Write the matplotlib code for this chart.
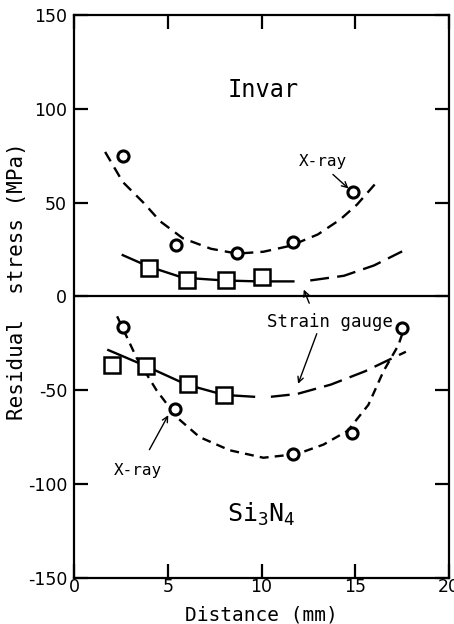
import numpy as np
import matplotlib.pyplot as plt

plt.rcParams['mathtext.fontset'] = 'custom'
plt.rcParams['mathtext.rm'] = 'DejaVu Sans Mono'

# Invar side (upper half)
invar_xray_x = [2.6, 5.45, 8.7, 11.7, 14.9]
invar_xray_y = [75, 27.6, 23, 29, 55.6]
invar_xray_fit_x = [1.66, 2.6, 3.7, 4.6, 5.8, 7.3, 8.7, 10.1, 11.55, 13.0, 14.2, 15.1, 16.2]
invar_xray_fit_y = [77, 61, 50, 40, 31, 25.4, 22.8, 23.8, 27, 33, 41, 49, 61.5]

invar_gauge_x = [4.0, 6.0, 8.1, 10.05]
invar_gauge_y = [15.4, 9, 9, 10.6]
invar_gauge_fit_x = [2.6, 3.96, 5.8, 8.0, 9.8, 11.7]
invar_gauge_fit_y = [22, 16, 10, 8.5, 8, 8]
invar_gauge_ext_x = [12.6, 14.4, 16.0, 17.5]
invar_gauge_ext_y = [8.5, 11, 16.5, 24]

# Si3N4 side (lower half)
si_xray_x = [2.6, 5.4, 11.7, 14.8, 17.5]
si_xray_y = [-16.4, -60, -84, -72.6, -17]
si_xray_fit_x = [2.3, 3.35, 4.4, 5.5, 6.7, 8.3, 10.1, 11.9, 13.3, 14.6, 15.7, 16.5, 17.3, 17.7]
si_xray_fit_y = [-10.6, -33, -50, -64.6, -75, -82, -86, -84, -79, -71.6, -57.8, -40, -26, -14.3]

si_gauge_x = [2.0, 3.85, 6.1, 8.0]
si_gauge_y = [-36.5, -37, -46.6, -52.7]
si_gauge_fit_x = [1.83, 3.8, 6.0, 8.0, 9.6]
si_gauge_fit_y = [-28.6, -37, -47, -52.5, -53.5]
si_gauge_ext_x = [10.5, 11.9, 13.7, 15.5, 17.7]
si_gauge_ext_y = [-53.5, -52, -47, -40, -29.5]

x_ticks = [0, 5, 10, 15, 20]
y_ticks = [-150, -100, -50, 0, 50, 100, 150]

mono = 'DejaVu Sans Mono'

fig = plt.figure(figsize=(4.54, 6.24), dpi=100)
ax = fig.add_axes([0.163, 0.074, 0.826, 0.902])

lw = 1.7
ax.plot(invar_xray_fit_x, invar_xray_fit_y, color='black', lw=lw, dashes=(4.6, 3))
ax.plot(invar_gauge_fit_x, invar_gauge_fit_y, color='black', lw=lw)
ax.plot(invar_gauge_ext_x, invar_gauge_ext_y, color='black', lw=lw, dashes=(8, 3.5))
ax.plot(si_xray_fit_x, si_xray_fit_y, color='black', lw=lw, dashes=(3.8, 2.6))
ax.plot(si_gauge_fit_x, si_gauge_fit_y, color='black', lw=lw)
ax.plot(si_gauge_ext_x, si_gauge_ext_y, color='black', lw=lw, dashes=(8, 3.5))

circ = dict(marker='o', ms=8, mfc='white', mec='black', mew=2.2, ls='none', zorder=5)
sq = dict(marker='s', ms=11, mfc='white', mec='black', mew=1.8, ls='none', zorder=5)
ax.plot(invar_xray_x, invar_xray_y, **circ)
ax.plot(si_xray_x, si_xray_y, **circ)
ax.plot(invar_gauge_x, invar_gauge_y, **sq)
ax.plot(si_gauge_x, si_gauge_y, **sq)

ax.axhline(0, color='black', lw=1.6)

# labels and arrows
ax.text(10.1, 110, 'Invar', fontsize=17, family=mono, ha='center', va='center')
ax.text(10.0, -116, r'$\mathrm{Si_3N_4}$', fontsize=18, ha='center', va='center')
ax.text(13.3, 72, 'X-ray', fontsize=11.5, family=mono, ha='center', va='center')
ax.annotate('', xy=(14.75, 56.5), xytext=(13.7, 66),
            arrowprops=dict(arrowstyle='->', color='black', lw=1))
ax.text(13.65, -13.8, 'Strain gauge', fontsize=12.5, family=mono, ha='center', va='center')
ax.annotate('', xy=(12.2, 5), xytext=(12.6, -5),
            arrowprops=dict(arrowstyle='->', color='black', lw=1))
ax.annotate('', xy=(11.9, -48), xytext=(13.0, -18.5),
            arrowprops=dict(arrowstyle='->', color='black', lw=1))
ax.text(3.4, -93, 'X-ray', fontsize=11.5, family=mono, ha='center', va='center')
ax.annotate('', xy=(5.1, -62), xytext=(3.95, -83),
            arrowprops=dict(arrowstyle='->', color='black', lw=1))

ax.set_xlim(0, 20)
ax.set_ylim(-150, 150)
ax.set_xticks(x_ticks)
ax.set_yticks(y_ticks)
ax.set_xticklabels([str(v) for v in x_ticks])
ax.set_yticklabels([str(v) for v in y_ticks])
ax.tick_params(direction='in', length=10, width=1.6, top=True, right=True,
               labelsize=12.5)
ax.tick_params(axis='y', pad=5)
ax.tick_params(axis='x', pad=0)
for s in ax.spines.values():
    s.set_linewidth(1.6)

ax.set_xlabel('Distance (mm)', fontsize=14, family=mono)
ax.xaxis.set_label_coords(0.5, -0.05)
ax.set_ylabel('Residual  stress (MPa)', fontsize=15, family=mono)
ax.yaxis.set_label_coords(-0.125, 0.527)

fig.savefig('out.png', dpi=100)
